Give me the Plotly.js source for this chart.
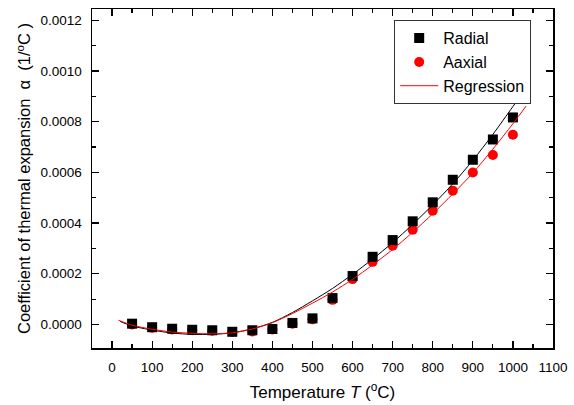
<!DOCTYPE html>
<html>
<head>
<meta charset="utf-8">
<script src="https://cdn.plot.ly/plotly-3.0.1.min.js"></script>
<style>html,body{margin:0;padding:0;background:#fff;}#chart{width:574px;height:405px;}</style>
</head>
<body>
<div id="chart"></div>
<script>
// Temperatures (°C)
var temperature = [50,100,150,200,250,300,350,400,450,500,550,600,650,700,750,800,850,900,950,1000];
// Radial coefficient of thermal expansion (1/°C)
var radial = [0.000003,-0.000011,-0.000017,-0.000021,-0.000023,-0.000029,-0.000023,-0.000018,0.000006,0.000024,
              0.000104,0.000191,0.000267,0.000333,0.000407,0.000482,0.000571,0.000650,0.000730,0.000817];
// Axial coefficient of thermal expansion (1/°C)
var axial = [0.000000,-0.000013,-0.000020,-0.000023,-0.000025,-0.000030,-0.000028,-0.000020,0.000003,0.000020,
             0.000097,0.000179,0.000247,0.000311,0.000374,0.000449,0.000528,0.000600,0.000669,0.000749];
// Regression curve for radial data
var fitRadialT = [20,50,100,150,200,250,300,350,400,450,500,550,600,650,700,750,800,850,900,950,1000,1027];
var fitRadial = [0.000012,-0.000006,-0.000022,-0.000034,-0.000039,-0.000039,-0.000033,-0.000017,0.000008,0.000047,
                 0.000093,0.000142,0.000198,0.000258,0.000323,0.000395,0.000472,0.000555,0.000648,0.000750,0.000860,0.000918];
// Regression curve for axial data
var fitAxialT = [16,50,100,150,200,250,300,350,400,450,500,550,600,650,700,750,800,850,900,950,1000,1033];
var fitAxial = [0.0000166,-0.000003,-0.000019,-0.000030,-0.000035,-0.000037,-0.000033,-0.000018,0.000007,0.000043,
                0.000084,0.000128,0.000178,0.000235,0.000296,0.000364,0.000437,0.000515,0.000598,0.000692,0.000792,0.000862];
// Tick labels
var xTicks = [0,100,200,300,400,500,600,700,800,900,1000,1100];
var yTicks = [0,0.0002,0.0004,0.0006,0.0008,0.0010,0.0012];
var yTickText = ['0.0000','0.0002','0.0004','0.0006','0.0008','0.0010','0.0012'];

var FONT = 'Arial, "Liberation Sans", sans-serif';

var traces = [
  {x: temperature, y: axial, type: 'scatter', mode: 'markers', name: 'Aaxial',
   legendrank: 2, marker: {symbol: 'circle', size: 10, color: '#ff0000'}},
  {x: temperature, y: radial, type: 'scatter', mode: 'markers', name: 'Radial',
   legendrank: 1, marker: {symbol: 'square', size: 10, color: '#000000'}},
  {x: fitRadialT, y: fitRadial, type: 'scatter', mode: 'lines', name: 'Radial fit', showlegend: false,
   line: {color: '#000000', width: 1, shape: 'spline', smoothing: 0.8}},
  {x: fitAxialT, y: fitAxial, type: 'scatter', mode: 'lines', name: 'Regression',
   legendrank: 3, line: {color: '#ff0000', width: 1, shape: 'spline', smoothing: 0.8}}
];

var axisCommon = {
  showline: true, linecolor: '#000', linewidth: 1.5, mirror: 'ticks',
  ticks: 'inside', ticklen: 7, tickwidth: 1.2, tickcolor: '#000',
  showgrid: false, zeroline: false,
  tickfont: {family: FONT, size: 13.5, color: '#000'}
};

var layout = {
  width: 574, height: 405,
  margin: {l: 92, r: 21, t: 9, b: 57, pad: 0},
  paper_bgcolor: '#fff', plot_bgcolor: '#fff',
  font: {family: FONT, color: '#000'},
  showlegend: true,
  legend: {
    x: 0.6551, y: 0.9675, xanchor: 'left', yanchor: 'top',
    bgcolor: '#fff', bordercolor: '#333', borderwidth: 1.2,
    font: {family: FONT, size: 16, color: '#000'},
    itemwidth: 38, traceorder: 'normal'
  },
  xaxis: Object.assign({}, axisCommon, {
    range: [-50, 1100], tickmode: 'array', tickvals: xTicks,
    ticktext: xTicks.map(String),
    minor: {dtick: 50, ticks: 'inside', ticklen: 4, tickwidth: 1.2, tickcolor: '#000', showgrid: false},
    ticklabelstandoff: 6,
    title: {text: 'Temperature <i>T</i> (<sup>o</sup>C)', font: {family: FONT, size: 17, color: '#000'}, standoff: 12}
  }),
  yaxis: Object.assign({}, axisCommon, {
    range: [-0.000093, 0.001245], tickmode: 'array', tickvals: yTicks, ticktext: yTickText,
    minor: {dtick: 0.0001, ticks: 'inside', ticklen: 4, tickwidth: 1.2, tickcolor: '#000', showgrid: false},
    ticklabelstandoff: 6,
    title: {text: 'Coefficient of thermal expansion \u00a0\u03b1\u00a0 (1/<sup>o</sup>C )', font: {family: FONT, size: 16.5, color: '#000'}, standoff: 5}
  })
};

Plotly.newPlot('chart', traces, layout, {displayModeBar: false, staticPlot: true});
</script>
</body>
</html>
